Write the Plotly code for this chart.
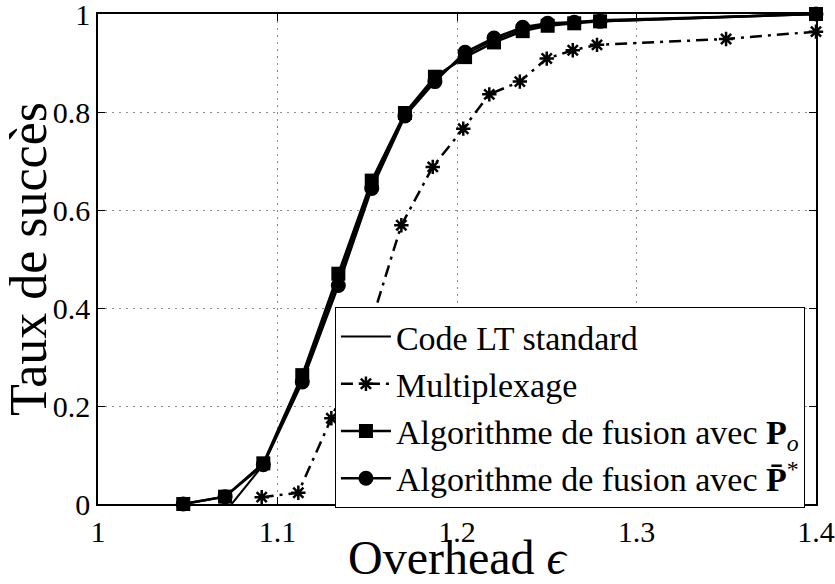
import plotly.graph_objects as go

# Overhead values (epsilon) and success rates for each decoding scheme
eps_fusion = [1.0475, 1.0708, 1.0921, 1.1138, 1.1339, 1.1525, 1.1710, 1.1877,
              1.2045, 1.2206, 1.2366, 1.2505, 1.2653, 1.2797, 1.4000]
rate_po = [0.000, 0.015, 0.083, 0.263, 0.470, 0.660, 0.798, 0.872,
           0.912, 0.942, 0.965, 0.976, 0.981, 0.985, 1.000]
rate_pstar = [0.000, 0.015, 0.080, 0.249, 0.446, 0.644, 0.792, 0.862,
              0.922, 0.951, 0.973, 0.981, 0.983, 0.985, 1.000]

eps_lt = [1.0745, 1.0921, 1.1138, 1.1339, 1.1525, 1.1710, 1.1877,
          1.2045, 1.2206, 1.2366, 1.2505, 1.2653, 1.2797, 1.4000]
rate_lt = [0.000, 0.080, 0.256, 0.458, 0.652, 0.795, 0.867,
           0.917, 0.947, 0.969, 0.979, 0.983, 0.988, 1.000]

eps_mux = [1.0912, 1.1116, 1.1300, 1.1505, 1.1690, 1.1865, 1.2035,
           1.2180, 1.2350, 1.2500, 1.2645, 1.2780, 1.3499, 1.4000]
rate_mux = [0.014, 0.023, 0.175, 0.350, 0.569, 0.688, 0.766,
            0.836, 0.862, 0.909, 0.926, 0.937, 0.949, 0.964]

x_ticks = [1.0, 1.1, 1.2, 1.3, 1.4]
x_labels = ["1", "1.1", "1.2", "1.3", "1.4"]
y_ticks = [0.0, 0.2, 0.4, 0.6, 0.8, 1.0]
y_labels = ["0", "0.2", "0.4", "0.6", "0.8", "1"]

FONT = "Liberation Serif, Times New Roman, serif"
BLACK = "#000000"

fig = go.Figure()

fig.add_trace(go.Scatter(
    x=eps_lt, y=rate_lt, mode="lines", name="Code LT standard",
    line=dict(color=BLACK, width=2), cliponaxis=False))

fig.add_trace(go.Scatter(
    x=eps_mux, y=rate_mux, mode="lines+markers", name="Multiplexage",
    line=dict(color=BLACK, width=2.5, dash="12px,6px,3px,6px"),
    marker=dict(symbol="asterisk-open", size=12,
                line=dict(color=BLACK, width=2.5)),
    cliponaxis=False))

fig.add_trace(go.Scatter(
    x=eps_fusion, y=rate_po, mode="lines+markers",
    name="Algorithme de fusion avec <b>P</b><sub><i>o</i></sub>",
    line=dict(color=BLACK, width=2.5),
    marker=dict(symbol="square", size=14, color=BLACK),
    cliponaxis=False))

fig.add_trace(go.Scatter(
    x=eps_fusion, y=rate_pstar, mode="lines+markers",
    name="Algorithme de fusion avec <b>P\u0304</b><sup>*</sup>",
    line=dict(color=BLACK, width=2.5),
    marker=dict(symbol="circle", size=15, color=BLACK),
    cliponaxis=False))

axis_common = dict(
    ticks="inside", ticklen=7, tickwidth=1, tickcolor=BLACK,
    showline=True, linecolor=BLACK, linewidth=1.5, mirror="ticks",
    showgrid=True, gridcolor="#8c8c8c", gridwidth=1, griddash="2px,5px",
    zeroline=False, ticklabeloverflow="allow", automargin=False,
    tickfont=dict(family=FONT, size=30, color=BLACK),
)

fig.update_xaxes(range=[1.0, 1.4], tickvals=x_ticks, ticktext=x_labels,
                 title=dict(text="Overhead <i>\u03f5</i>",
                            font=dict(family=FONT, size=48, color=BLACK),
                            standoff=3),
                 **axis_common)
fig.update_yaxes(range=[0.0, 1.0], tickvals=y_ticks, ticktext=y_labels,
                 title=dict(text="Taux de succès",
                            font=dict(family=FONT, size=52, color=BLACK),
                            standoff=2),
                 **axis_common)

fig.update_layout(
    template="none",
    width=835, height=584,
    margin=dict(l=98, r=19, t=14, b=80),
    plot_bgcolor="white", paper_bgcolor="white",
    font=dict(family=FONT, color=BLACK),
    legend=dict(x=0.330, y=0.402, xanchor="left", yanchor="top",
                bgcolor="white", bordercolor=BLACK, borderwidth=1,
                font=dict(family=FONT, size=34, color=BLACK),
                itemwidth=50, tracegroupgap=0),
)

fig.write_html("out.html")
